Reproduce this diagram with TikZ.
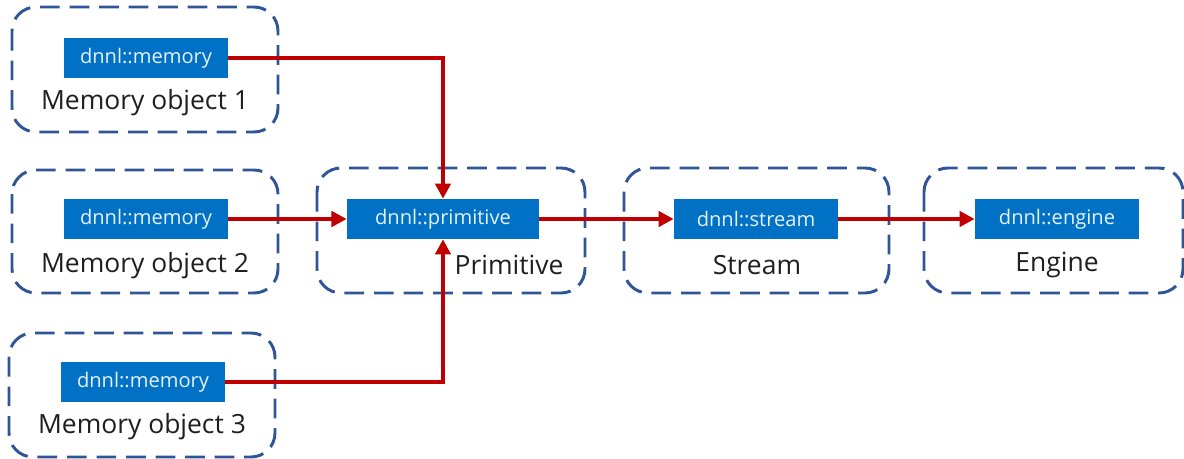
\documentclass[tikz,border=0pt]{standalone}
\usepackage{fontspec}
\setmainfont{Open Sans}
\usetikzlibrary{positioning,arrows.meta}
\definecolor{IntelBlue}{RGB}{0,113,197}
\definecolor{FrameBlue}{RGB}{47,85,151}
\definecolor{LinkRed}{RGB}{192,0,0}
\tikzset{
    apinode/.style={rectangle, fill=IntelBlue, text=white!90!IntelBlue, font=\fontsize{14.3}{16}\selectfont, minimum width=4.1cm, minimum height=1cm, inner sep=0pt},
    groupbox/.style={draw=FrameBlue, line width=2.1pt, dash pattern=on 14pt off 7pt, rounded corners=0.6cm},
    grouplabel/.style={font=\fontsize{18.8}{22}\selectfont, text=black!88},
    link/.style={draw=LinkRed, line width=3.1pt, -{Triangle[length=0.38cm,width=0.38cm]}}
}

\begin{document}
\begin{tikzpicture}[x=0.025cm, y=-0.025cm]
    \useasboundingbox (0,0) rectangle (1184,459);
    % dashed frames
    \draw[groupbox] (12,7) rectangle (278,132);
    \draw[groupbox] (12,170) rectangle (278,293);
    \draw[groupbox] (9,333) rectangle (275,457);
    \draw[groupbox] (317,168) rectangle (585,293);
    \draw[groupbox] (624,168) rectangle (889,293);
    \draw[groupbox] (924,168) rectangle (1183,293);

    % API objects
    \node[apinode] (mem1) at (146,58) {dnnl::memory};
    \node[apinode] (mem2) at (146,219) {dnnl::memory};
    \node[apinode] (mem3) at (143,382) {dnnl::memory};
    \node[apinode, minimum width=4.8cm] (prim) at (443,219) {dnnl::primitive};
    \node[apinode] (strm) at (756,219) {dnnl::stream};
    \node[apinode] (eng) at (1057,219) {dnnl::engine};

    % captions
    \node[grouplabel] (lmem1) at (145,103) {Memory object 1};
    \node[grouplabel] (lmem2) at (145,266) {Memory object 2};
    \node[grouplabel] (lmem3) at (142,427) {Memory object 3};
    \node[grouplabel] (lprim) at (509,265) {Primitive};
    \node[grouplabel] (lstrm) at (757,265) {Stream};
    \node[grouplabel] (leng) at (1057,265) {Engine};

    % links
    \draw[link] (mem1.east) -| (prim.north);
    \draw[link] (mem2.east) -- (prim.west);
    \draw[link] (mem3.east) -| (prim.south);
    \draw[link] (prim.east) -- (strm.west);
    \draw[link] (strm.east) -- (eng.west);
\end{tikzpicture}
\end{document}
